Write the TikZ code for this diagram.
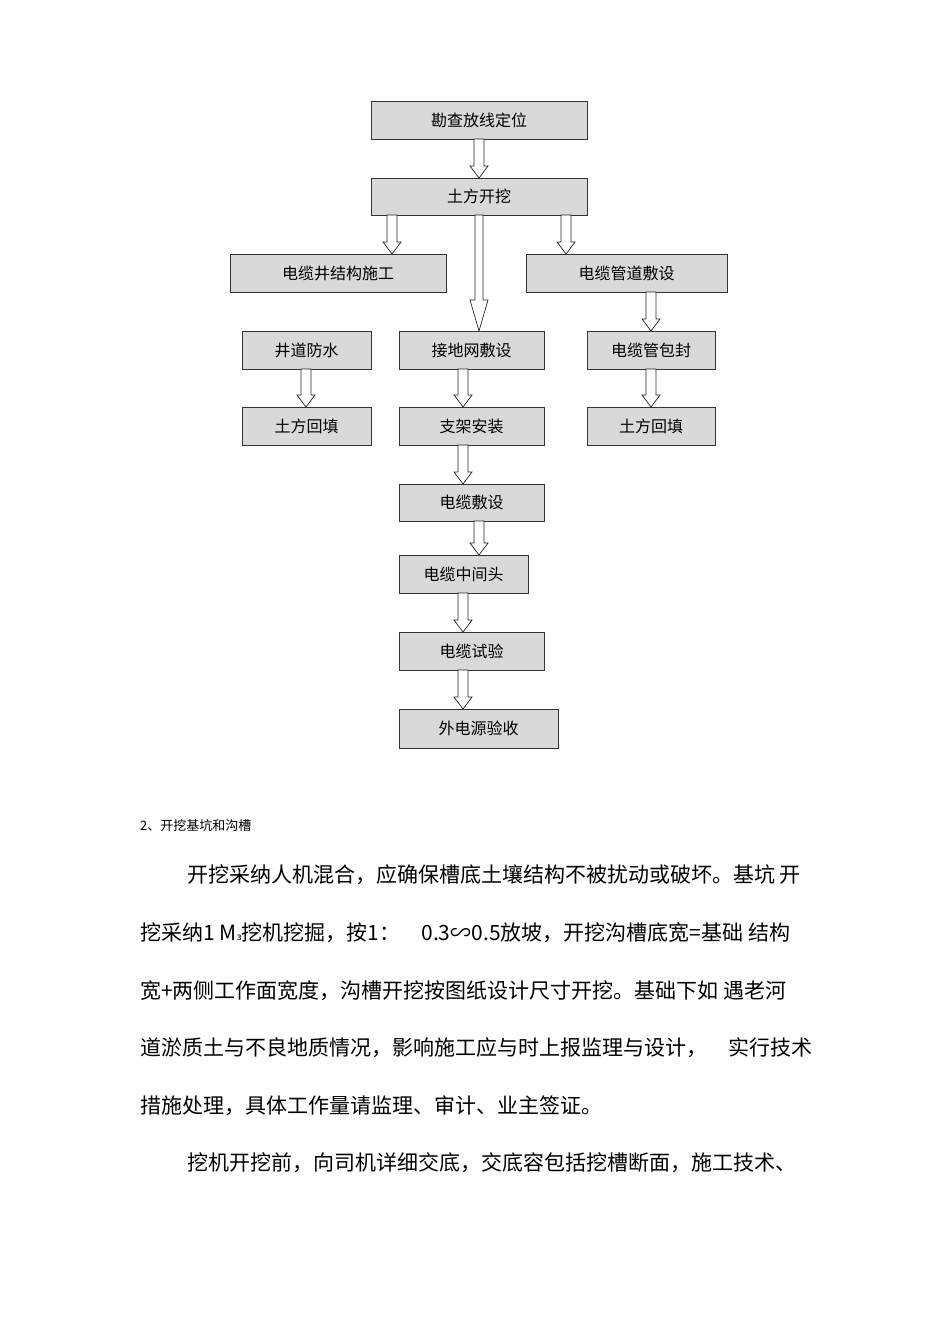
\documentclass[tikz,border=0pt]{standalone}
\usepackage{fontspec}
\newfontfamily\cjk{Noto Sans CJK SC}
\newfontfamily\dvs{DejaVu Sans}
\begin{document}
\begin{tikzpicture}[x=1pt,y=-1pt,
  box/.style={draw=black!80,fill=black!15,line width=0.8pt,inner sep=0pt,font=\cjk\fontsize{16}{16}\selectfont},
  arr/.style={draw=black!85,fill=white,line width=0.7pt},
  para/.style={anchor=west,inner sep=0pt,font=\cjk\fontsize{21}{21}\selectfont}]
\useasboundingbox[fill=white] (0,0) rectangle (950,1344);
\newcommand\bx[6]{\node[box,minimum width={#4-#2},minimum height={#5-#3}] (#1) at ({(#2+#4)/2},{(#3+#5)/2}) {#6};}
\newcommand\barrow[3]{\draw[arr] ({#1-5},#2) -- ({#1-5},{#3-12}) -- ({#1-9},{#3-12}) -- (#1,#3) -- ({#1+9},{#3-12}) -- ({#1+5},{#3-12}) -- ({#1+5},#2) -- cycle;}
\bx{a}{371}{101}{587}{139}{勘查放线定位}
\bx{b}{371}{178}{587}{215}{土方开挖}
\bx{c}{230}{254}{446}{292}{电缆井结构施工}
\bx{d}{526}{254}{727}{292}{电缆管道敷设}
\bx{e}{242}{331}{371}{369}{井道防水}
\bx{f}{399}{331}{544}{369}{接地网敷设}
\bx{g}{587}{331}{715}{369}{电缆管包封}
\bx{h}{242}{407}{371}{445}{土方回填}
\bx{i}{399}{407}{544}{445}{支架安装}
\bx{j}{587}{407}{715}{445}{土方回填}
\bx{k}{399}{484}{544}{521}{电缆敷设}
\bx{l}{399}{555}{528}{593}{电缆中间头}
\bx{m}{399}{632}{544}{670}{电缆试验}
\bx{n}{399}{709}{558}{748}{外电源验收}
\barrow{479}{139}{178}
\barrow{392}{215}{254}
\barrow{566}{215}{254}
\draw[arr] (475,215) -- (475,300) -- (470,300) -- (479,331) -- (488,300) -- (483,300) -- (483,215) -- cycle;
\barrow{306}{369}{407}
\barrow{463}{369}{407}
\barrow{651}{292}{331}
\barrow{651}{369}{407}
\barrow{463}{445}{484}
\barrow{479}{521}{555}
\barrow{463}{593}{632}
\barrow{463}{670}{709}
\node[para,font=\cjk\fontsize{13}{13}\selectfont] (t0) at (140,826) {2、开挖基坑和沟槽};
\node[para] (t1) at (187,875) {开挖采纳人机混合，应确保槽底土壤结构不被扰动或破坏。基坑 开};
\node[para] (t2) at (140,933) {挖采纳1 M{\dvs\fontsize{13}{13}\selectfont ₃}挖机挖掘，按1：　0.3∽0.5放坡，开挖沟槽底宽=基础 结构};
\node[para] (t3) at (140,991) {宽+两侧工作面宽度，沟槽开挖按图纸设计尺寸开挖。基础下如 遇老河};
\node[para] (t4) at (140,1048) {道淤质土与不良地质情况，影响施工应与时上报监理与设计，　实行技术};
\node[para] (t5) at (140,1106) {措施处理，具体工作量请监理、审计、业主签证。};
\node[para] (t6) at (187,1163) {挖机开挖前，向司机详细交底，交底容包括挖槽断面，施工技术、};
\end{tikzpicture}
\end{document}
